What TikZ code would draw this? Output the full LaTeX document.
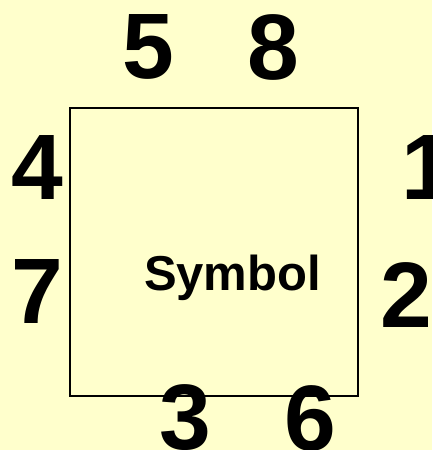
\documentclass[tikz,border=0pt]{standalone}
\usepackage{fontspec}
\setmainfont{Liberation Sans}
\begin{document}
\begin{tikzpicture}[x=1pt,y=-1pt,
  digit/.style={inner sep=0pt, anchor=center, font=\fontsize{93}{93}\selectfont\bfseries},
  label/.style={inner sep=0pt, anchor=base, font=\fontsize{49}{49}\selectfont\bfseries},
  boxframe/.style={draw=black, line width=1.6pt, inner sep=0pt, minimum width=288pt, minimum height=288pt}]
\fill[fill={rgb,255:red,255;green,255;blue,204}] (0,0) rectangle (432,450);
\useasboundingbox (0,0) rectangle (432,450);
\node[boxframe] (box) at (214,252) {};
\node[label] (sym) at (232.5,290) {Symbol};
\node[digit] (n5) at (148,47) {5};
\node[digit] (n8) at (273,47) {8};
\node[digit] (n4) at (37,168) {4};
\node[digit] (n7) at (37,292) {7};
\node[digit] (n1) at (427,168) {1};
\node[digit] (n2) at (406,295) {2};
\node[digit] (n3) at (185,418) {3};
\node[digit] (n6) at (310,418) {6};
\end{tikzpicture}
\end{document}
